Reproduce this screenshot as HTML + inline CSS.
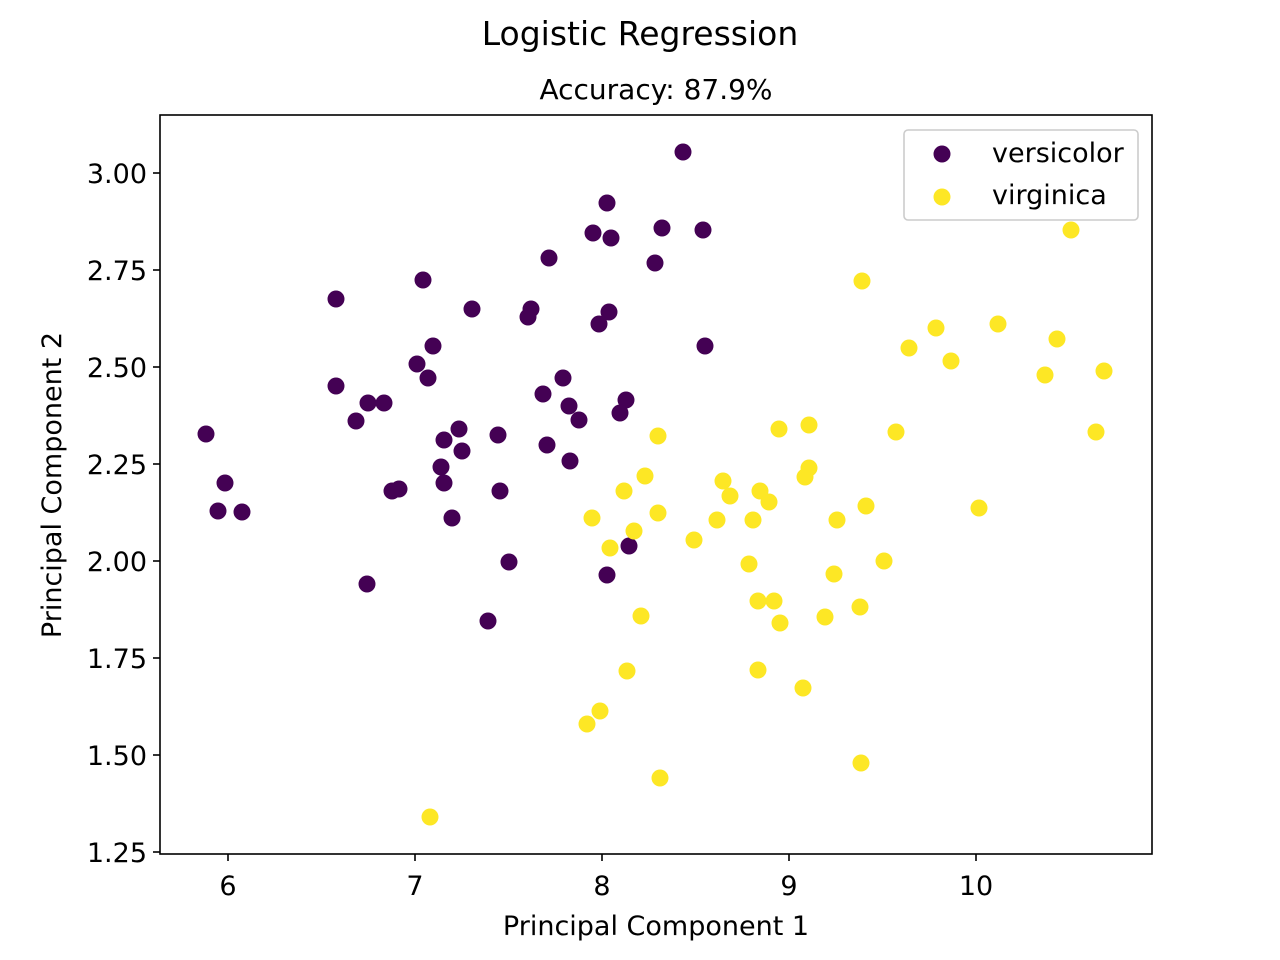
<!DOCTYPE html>
<html><head><meta charset="utf-8"><style>body{margin:0;background:#fff}svg{display:block}text{font-family:"DejaVu Sans","Liberation Sans",sans-serif;fill:#000}</style></head>
<body>
<svg width="1280" height="960" xmlns="http://www.w3.org/2000/svg">
<rect width="1280" height="960" fill="#fff"/>
<text x="640" y="45" font-size="33" text-anchor="middle">Logistic Regression</text>
<text x="656" y="99" font-size="28" text-anchor="middle">Accuracy: 87.9%</text>
<g id="pts"></g>
<rect x="160" y="115" width="992" height="739" fill="none" stroke="#000" stroke-width="1.6"/>
<g stroke="#000" stroke-width="1.6">
<line x1="228" y1="854" x2="228" y2="861"/><line x1="415" y1="854" x2="415" y2="861"/><line x1="602" y1="854" x2="602" y2="861"/><line x1="789" y1="854" x2="789" y2="861"/><line x1="976" y1="854" x2="976" y2="861"/>
<line x1="153" y1="173" x2="160" y2="173"/><line x1="153" y1="270" x2="160" y2="270"/><line x1="153" y1="367" x2="160" y2="367"/><line x1="153" y1="464" x2="160" y2="464"/><line x1="153" y1="561" x2="160" y2="561"/><line x1="153" y1="658" x2="160" y2="658"/><line x1="153" y1="755" x2="160" y2="755"/><line x1="153" y1="852" x2="160" y2="852"/>
</g>
<g font-size="27" text-anchor="middle">
<text x="228" y="895">6</text><text x="415" y="895">7</text><text x="602" y="895">8</text><text x="789" y="895">9</text><text x="976" y="895">10</text>
</g>
<g font-size="27" text-anchor="end">
<text x="147" y="183">3.00</text><text x="147" y="280">2.75</text><text x="147" y="377">2.50</text><text x="147" y="474">2.25</text><text x="147" y="571">2.00</text><text x="147" y="668">1.75</text><text x="147" y="765">1.50</text><text x="147" y="862">1.25</text>
</g>
<text x="656" y="935" font-size="27" text-anchor="middle">Principal Component 1</text>
<text transform="translate(61,485) rotate(-90)" font-size="27" text-anchor="middle">Principal Component 2</text>
<rect x="904" y="130" width="234" height="90" rx="4" fill="#fff" fill-opacity="0.8" stroke="#ccc" stroke-width="1.6"/>
<circle cx="942" cy="154" r="8.5" fill="#440154"/>
<circle cx="942" cy="197" r="8.5" fill="#fde725"/>
<text x="992" y="162" font-size="27">versicolor</text>
<text x="992" y="204" font-size="27">virginica</text>
</svg>
<script>
var P=[[683,152],[607,203],[593,233],[611,238],[662,228],[703,230],[655,263],[549,258],[336,299],[423,280],[472,309],[531,309],[528,317],[609,312],[599,324],[705,346],[433,346],[417,364],[428,378],[336,386],[563,378],[543,394],[368,403],[384,403],[569,406],[626,400],[620,413],[579,420],[356,421],[459,429],[498,435],[444,440],[547,445],[462,451],[206,434],[570,461],[225,483],[441,467],[444,483],[392,491],[399,489],[500,491],[218,511],[242,512],[452,518],[629,546],[509,562],[607,575],[367,584],[488,621]];
var Y=[[1071,230],[862,281],[936,328],[998,324],[909,348],[1057,339],[951,361],[1045,375],[1104,371],[809,425],[779,429],[896,432],[1096,432],[658,436],[809,468],[645,476],[723,481],[805,477],[730,496],[760,491],[769,502],[624,491],[866,506],[979,508],[592,518],[658,513],[717,520],[753,520],[837,520],[634,531],[694,540],[610,548],[749,564],[884,561],[834,574],[758,601],[774,601],[641,616],[825,617],[860,607],[780,623],[627,671],[758,670],[803,688],[600,711],[587,724],[660,778],[861,763],[430,817]];
var s='';P.forEach(function(p){s+='<circle cx="'+p[0]+'" cy="'+p[1]+'" r="8.5" fill="#440154"/>'});
Y.forEach(function(p){s+='<circle cx="'+p[0]+'" cy="'+p[1]+'" r="8.5" fill="#fde725"/>'});
document.getElementById('pts').innerHTML=s;
</script>
</body></html>
